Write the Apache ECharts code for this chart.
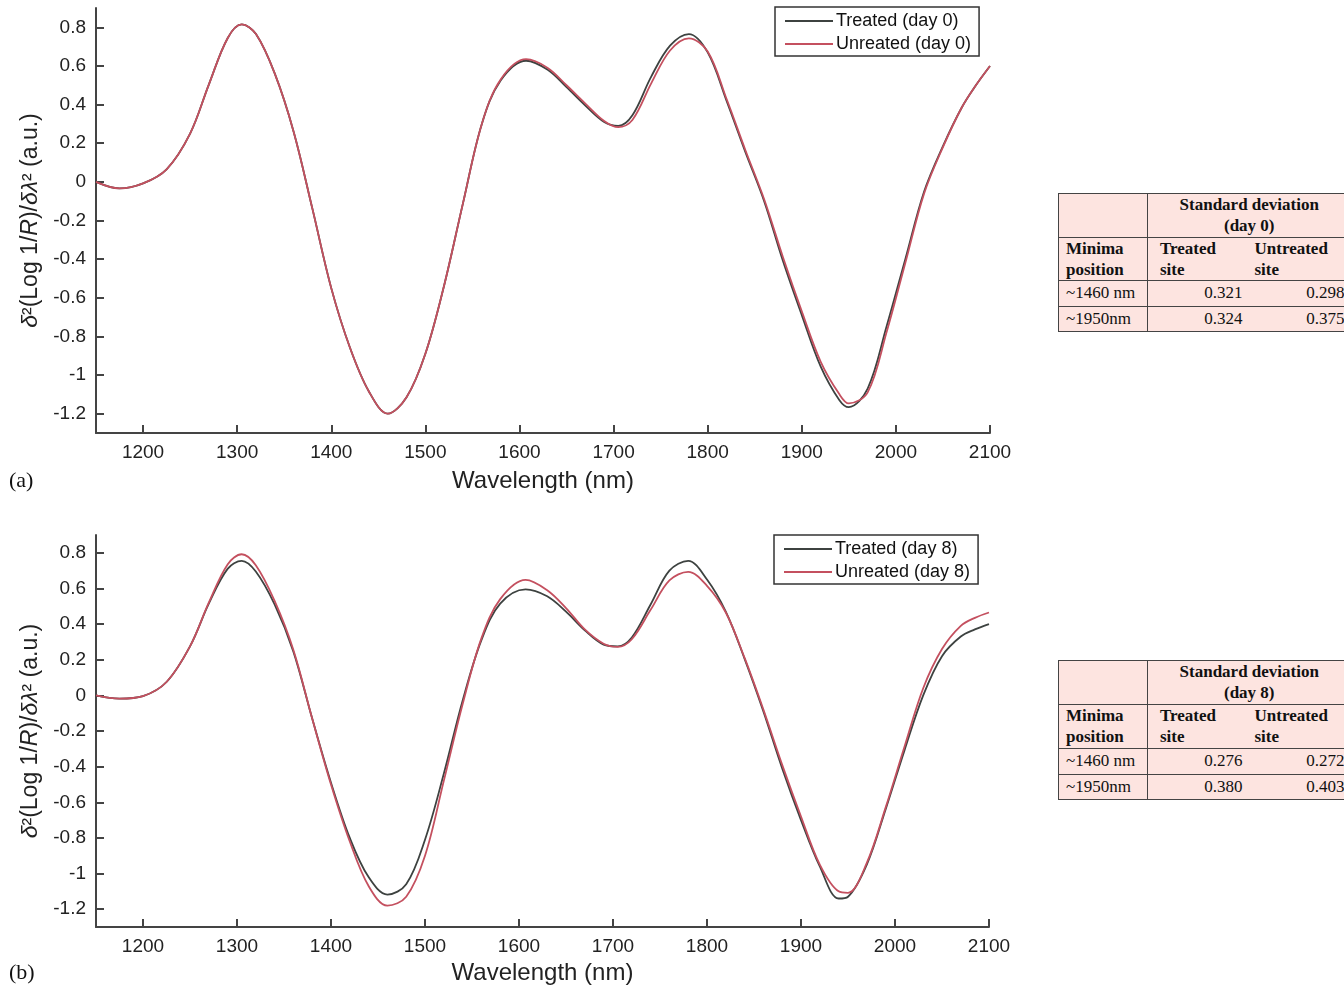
<!DOCTYPE html>
<html>
<head>
<meta charset="utf-8">
<script src="https://cdn.jsdelivr.net/npm/echarts@6/dist/echarts.min.js"></script>
<style>
  html, body { margin: 0; padding: 0; background: #fff; overflow: hidden; }
  #chart { position: absolute; left: 0; top: 0; width: 1344px; height: 988px; }
  table.sd {
    position: absolute; left: 1058px; border-collapse: collapse;
    font-family: "Liberation Serif", "Times New Roman", serif; font-size: 17px; color: #111;
    background: #fde4e0; table-layout: fixed; width: 292px;
  }
  table.sd td { border-top: 1px solid #444; border-bottom: 1px solid #444; padding: 0; vertical-align: top; white-space: nowrap; }
  table.sd td.c1 { border-left: 1px solid #444; border-right: 1px solid #444; padding-left: 7px; }
  table.sd td.h { font-weight: bold; font-size: 17px; line-height: 21px; }
  table.sd td.hc { text-align: center; padding-top: 0px; }
  table.sd td.n { text-align: right; padding-right: 6px; line-height: 24px; }
  table.sd td.p { padding-left: 12px; }
  table.sd td.p3 { padding-left: 6px; }
</style>
</head>
<body>
<div id="chart"></div>

<table class="sd" id="tabA" style="top:193px">
  <colgroup><col style="width:89px"><col style="width:101px"><col style="width:102px"></colgroup>
  <tr style="height:44px"><td class="c1 h"></td><td class="h hc" colspan="2">Standard deviation<br>(day 0)</td></tr>
  <tr style="height:43px"><td class="c1 h">Minima<br>position</td><td class="h p">Treated<br>site</td><td class="h p3">Untreated<br>site</td></tr>
  <tr style="height:26px"><td class="c1" style="line-height:24px">~1460 nm</td><td class="n">0.321</td><td class="n">0.298</td></tr>
  <tr style="height:25px"><td class="c1" style="line-height:24px">~1950nm</td><td class="n">0.324</td><td class="n">0.375</td></tr>
</table>

<table class="sd" id="tabB" style="top:660px">
  <colgroup><col style="width:89px"><col style="width:101px"><col style="width:102px"></colgroup>
  <tr style="height:44px"><td class="c1 h"></td><td class="h hc" colspan="2">Standard deviation<br>(day 8)</td></tr>
  <tr style="height:44px"><td class="c1 h">Minima<br>position</td><td class="h p">Treated<br>site</td><td class="h p3">Untreated<br>site</td></tr>
  <tr style="height:26px"><td class="c1" style="line-height:24px">~1460 nm</td><td class="n">0.276</td><td class="n">0.272</td></tr>
  <tr style="height:25px"><td class="c1" style="line-height:24px">~1950nm</td><td class="n">0.380</td><td class="n">0.403</td></tr>
</table>

<script>
var chart = echarts.init(document.getElementById('chart'));

// wavelength (nm) shared by all curves
var wavelength = [1150, 1175, 1200, 1225, 1250, 1270, 1290, 1305, 1320, 1340, 1360, 1380, 1400, 1420, 1440, 1460, 1480, 1500, 1520, 1540,
  1560, 1580, 1607, 1630, 1650, 1670, 1690, 1705, 1720, 1740, 1760, 1780, 1800, 1820, 1840, 1860, 1880, 1900, 1920, 1940,
  1950, 1970, 1990, 2010, 2030, 2050, 2070, 2085, 2100];

// (a) day 0
var treatedDay0 = [0.00, -0.034, -0.008, 0.065, 0.25, 0.505, 0.745, 0.815, 0.765, 0.56, 0.26, -0.14, -0.55, -0.86, -1.085, -1.20, -1.115, -0.89, -0.535, -0.11,
  0.30, 0.525, 0.627, 0.58, 0.49, 0.395, 0.31, 0.29, 0.345, 0.545, 0.705, 0.765, 0.67, 0.42, 0.155, -0.10, -0.41, -0.69, -0.955, -1.13,
  -1.166, -1.07, -0.75, -0.40, -0.05, 0.185, 0.385, 0.50, 0.60];
var untreatedDay0 = [0.00, -0.034, -0.008, 0.065, 0.25, 0.505, 0.745, 0.815, 0.765, 0.56, 0.26, -0.14, -0.55, -0.86, -1.085, -1.20, -1.115, -0.89, -0.535, -0.11,
  0.30, 0.53, 0.635, 0.59, 0.50, 0.405, 0.315, 0.283, 0.32, 0.51, 0.68, 0.743, 0.675, 0.43, 0.165, -0.09, -0.39, -0.67, -0.93, -1.10,
  -1.147, -1.09, -0.78, -0.42, -0.06, 0.18, 0.385, 0.50, 0.60];

// (b) day 8
var treatedDay8 = [0.00, -0.018, -0.004, 0.075, 0.275, 0.515, 0.71, 0.755, 0.695, 0.51, 0.245, -0.13, -0.49, -0.80, -1.02, -1.118, -1.06, -0.81, -0.44, -0.03,
  0.31, 0.515, 0.595, 0.556, 0.47, 0.365, 0.285, 0.275, 0.325, 0.51, 0.70, 0.755, 0.65, 0.47, 0.205, -0.09, -0.41, -0.70, -0.96, -1.14,
  -1.13, -0.95, -0.64, -0.31, 0.00, 0.22, 0.33, 0.37, 0.40];
var untreatedDay8 = [0.00, -0.018, -0.004, 0.075, 0.275, 0.52, 0.735, 0.792, 0.73, 0.53, 0.255, -0.13, -0.50, -0.82, -1.07, -1.18, -1.13, -0.90, -0.48, -0.05,
  0.32, 0.54, 0.648, 0.59, 0.49, 0.37, 0.29, 0.272, 0.315, 0.48, 0.645, 0.693, 0.615, 0.465, 0.21, -0.08, -0.39, -0.68, -0.95, -1.10,
  -1.108, -0.94, -0.63, -0.29, 0.04, 0.26, 0.39, 0.435, 0.465];

var xTicks = [1200, 1300, 1400, 1500, 1600, 1700, 1800, 1900, 2000, 2100];
var yTicks = [-1.2, -1, -0.8, -0.6, -0.4, -0.2, 0, 0.2, 0.4, 0.6, 0.8];

function pairs(ys) {
  return wavelength.map(function (w, i) { return [w, ys[i]]; });
}

var sans = '"Liberation Sans", Arial, sans-serif';
var serif = '"Liberation Serif", "Times New Roman", serif';
var axisCol = '#444';
var treatedCol = '#3d4240';
var untreatedCol = '#c4505f';

function xAxisFor(idx, gap) {
  return {
    type: 'value', gridIndex: idx, min: 1150, max: 2100, interval: 50,
    name: 'Wavelength (nm)', nameLocation: 'middle', nameGap: gap,
    nameTextStyle: { fontFamily: sans, fontSize: 24, color: '#222' },
    axisLine: { show: true, onZero: false, lineStyle: { color: axisCol, width: 2 } },
    axisTick: { show: true, inside: true, length: 8, customValues: xTicks, lineStyle: { color: axisCol, width: 2 } },
    axisLabel: {
      customValues: xTicks, margin: 10, fontFamily: sans, fontSize: 19, color: '#222',
      formatter: function (v) { return String(v); }
    },
    splitLine: { show: false }
  };
}

function yAxisFor(idx) {
  return {
    type: 'value', gridIndex: idx, min: -1.3, max: 0.9, interval: 0.1,
    name: '{i|δ}²(Log 1/{i|R})/{i|δλ}² (a.u.)', nameLocation: 'middle', nameGap: 52,
    nameTextStyle: {
      fontFamily: sans, fontSize: 23, color: '#222',
      rich: { i: { fontStyle: 'italic', fontFamily: sans, fontSize: 23, color: '#222' } }
    },
    axisLine: { show: true, onZero: false, lineStyle: { color: axisCol, width: 2 } },
    axisTick: { show: true, inside: true, length: 8, customValues: yTicks, lineStyle: { color: axisCol, width: 2 } },
    axisLabel: {
      customValues: yTicks, margin: 10, fontFamily: sans, fontSize: 19, color: '#222',
      formatter: function (v) { return String(+v.toFixed(1)); }
    },
    splitLine: { show: false }
  };
}

function legendFor(left, top, names) {
  return {
    orient: 'vertical', left: left, top: top, data: names,
    icon: 'rect', itemWidth: 48, itemHeight: 2, itemGap: 3,
    padding: [4, 8, 2, 10],
    borderColor: '#333', borderWidth: 1.5, backgroundColor: '#fff',
    textStyle: { fontFamily: sans, fontSize: 18, color: '#111', lineHeight: 20, padding: [0, 0, 0, -2] }
  };
}

function line(name, idx, ys, color) {
  return {
    name: name, type: 'line', xAxisIndex: idx, yAxisIndex: idx,
    data: pairs(ys), smooth: 0.35, showSymbol: false,
    lineStyle: { color: color, width: 1.8 }, itemStyle: { color: color }
  };
}

var option = {
  animation: false,
  grid: [
    { left: 96, top: 8, width: 894, height: 425 },
    { left: 96, top: 535, width: 893, height: 392 }
  ],
  xAxis: [xAxisFor(0, 36), xAxisFor(1, 34)],
  yAxis: [yAxisFor(0), yAxisFor(1)],
  legend: [
    legendFor(775, 7, ['Treated (day 0)', 'Unreated (day 0)']),
    legendFor(774, 535, ['Treated (day 8)', 'Unreated (day 8)'])
  ],
  graphic: [
    { type: 'text', left: 9, top: 470, style: { text: '(a)', fontFamily: serif, fontSize: 22, fill: '#111' } },
    { type: 'text', left: 9, top: 962, style: { text: '(b)', fontFamily: serif, fontSize: 22, fill: '#111' } }
  ],
  series: [
    line('Treated (day 0)', 0, treatedDay0, treatedCol),
    line('Unreated (day 0)', 0, untreatedDay0, untreatedCol),
    line('Treated (day 8)', 1, treatedDay8, treatedCol),
    line('Unreated (day 8)', 1, untreatedDay8, untreatedCol)
  ]
};

chart.setOption(option);
</script>
</body>
</html>
